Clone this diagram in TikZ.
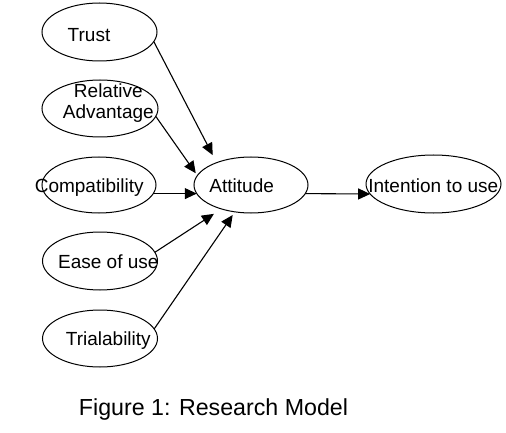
\documentclass[tikz,border=0pt]{standalone}
\usepackage{fontspec}
\setmainfont{Liberation Sans}
\usetikzlibrary{shapes.geometric,arrows.meta}

\tikzset{
    oval/.style={draw,ellipse,inner sep=0pt,outer sep=0pt,line width=1pt},
    lbl/.style={inner sep=0pt,anchor=base,font=\fontsize{19}{21}\selectfont},
}

\begin{document}
\begin{tikzpicture}[x=1pt,y=-1pt,line width=1.1pt,>={Triangle[length=12pt,width=11pt]}]
    \useasboundingbox (0,0) rectangle (506,433);

    \node[oval,minimum width=115pt,minimum height=58pt](trust)at(99.5,32){};
    \node[oval,minimum width=116pt,minimum height=57pt](rel)at(100,108.5){};
    \node[oval,minimum width=114pt,minimum height=56pt](compat)at(99,185){};
    \node[oval,minimum width=114pt,minimum height=56pt](att)at(251,185){};
    \node[oval,minimum width=115pt,minimum height=58pt](ease)at(100,261){};
    \node[oval,minimum width=115pt,minimum height=57pt](trial)at(100,338.5){};
    \node[oval,minimum width=135pt,minimum height=58pt](intent)at(433.5,184){};

    \node[lbl](trusttext)at(89,41.7){Trust};
    \node[lbl](reltext)at(108.3,97.3){Relative};
    \node[lbl](advtext)at(108.3,118.3){Advantage};
    \node[lbl](compattext)at(89.2,192.7){Compatibility};
    \node[lbl](atttext)at(241.7,192.7){Attitude};
    \node[lbl](easetext)at(108.3,268.3){Ease of use};
    \node[lbl](trialtext)at(108.3,345.7){Trialability};
    \node[lbl](intenttext)at(433.3,192.3){Intention to use};

    \draw[->,shorten >=8.5pt](trust.-10)--(att.147);
    \draw[->,shorten >=2.8pt](rel.-8)--(att.170);
    \draw[->](compat.-9)--(att.-171);
    \draw[->,shorten >=9pt](ease.9)--(att.-141);
    \draw[->,shorten >=3.8pt](trial.10)--(att.-121);
    \draw[->](att.-9)--(intent.-171.5);

    \node[lbl,font=\fontsize{23.2}{26}\selectfont](caption)at(213.5,415){Figure 1: Research Model};
\end{tikzpicture}
\end{document}
